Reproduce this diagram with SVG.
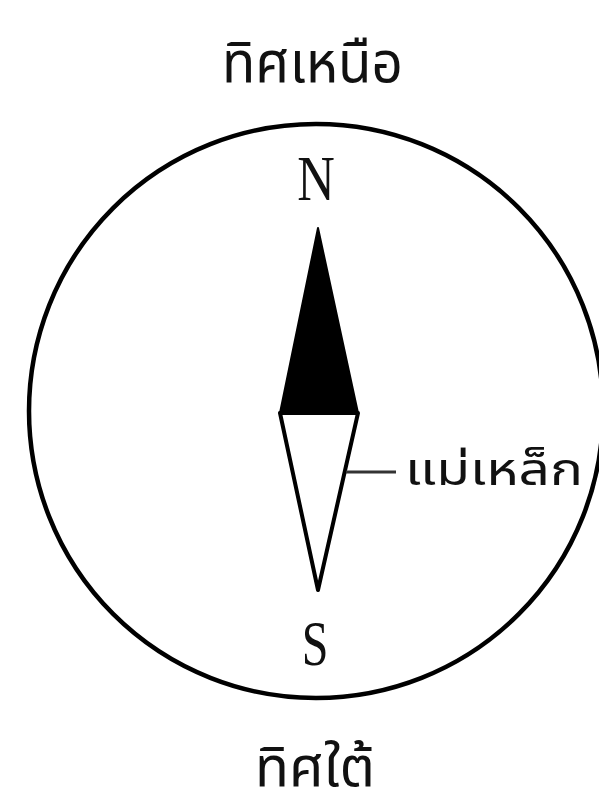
<svg xmlns="http://www.w3.org/2000/svg" width="599" height="792" viewBox="0 0 599 792">
<style>
.th{font-family:"Noto Sans Thai","Noto Sans","DejaVu Sans",sans-serif;fill:#111}
.ser{font-family:"Liberation Serif",serif;fill:#111;text-anchor:middle}
</style>
<rect width="599" height="792" fill="#fff"/>
<g id="compass">
<circle cx="316" cy="411" r="287" fill="none" stroke="#000" stroke-width="4.5"/>
</g>
<g id="needle">
<polygon points="318,228 358,413 280,413" fill="#000" stroke="#000" stroke-width="2" stroke-linejoin="round"/>
<polygon points="280,413 358,413 318,590" fill="#fff" stroke="#000" stroke-width="4" stroke-linejoin="round"/>
</g>
<g id="labels">
<text class="ser" font-size="52" transform="translate(316,200) scale(1,1.2)">N</text>
<text class="ser" font-size="48" transform="translate(315,665) scale(1,1.3)">S</text>
<text class="th" x="222" y="82" font-size="57" textLength="181" lengthAdjust="spacingAndGlyphs">ทิศเหนือ</text>
<text class="th" x="255" y="786" font-size="56" textLength="120" lengthAdjust="spacingAndGlyphs">ทิศใต้</text>
<text class="th" x="405" y="485" font-size="45" textLength="178" lengthAdjust="spacingAndGlyphs">แม่เหล็ก</text>
</g>
<g id="connectors">
<line x1="346" y1="472" x2="396" y2="472" stroke="#333" stroke-width="3"/>
</g>
</svg>
